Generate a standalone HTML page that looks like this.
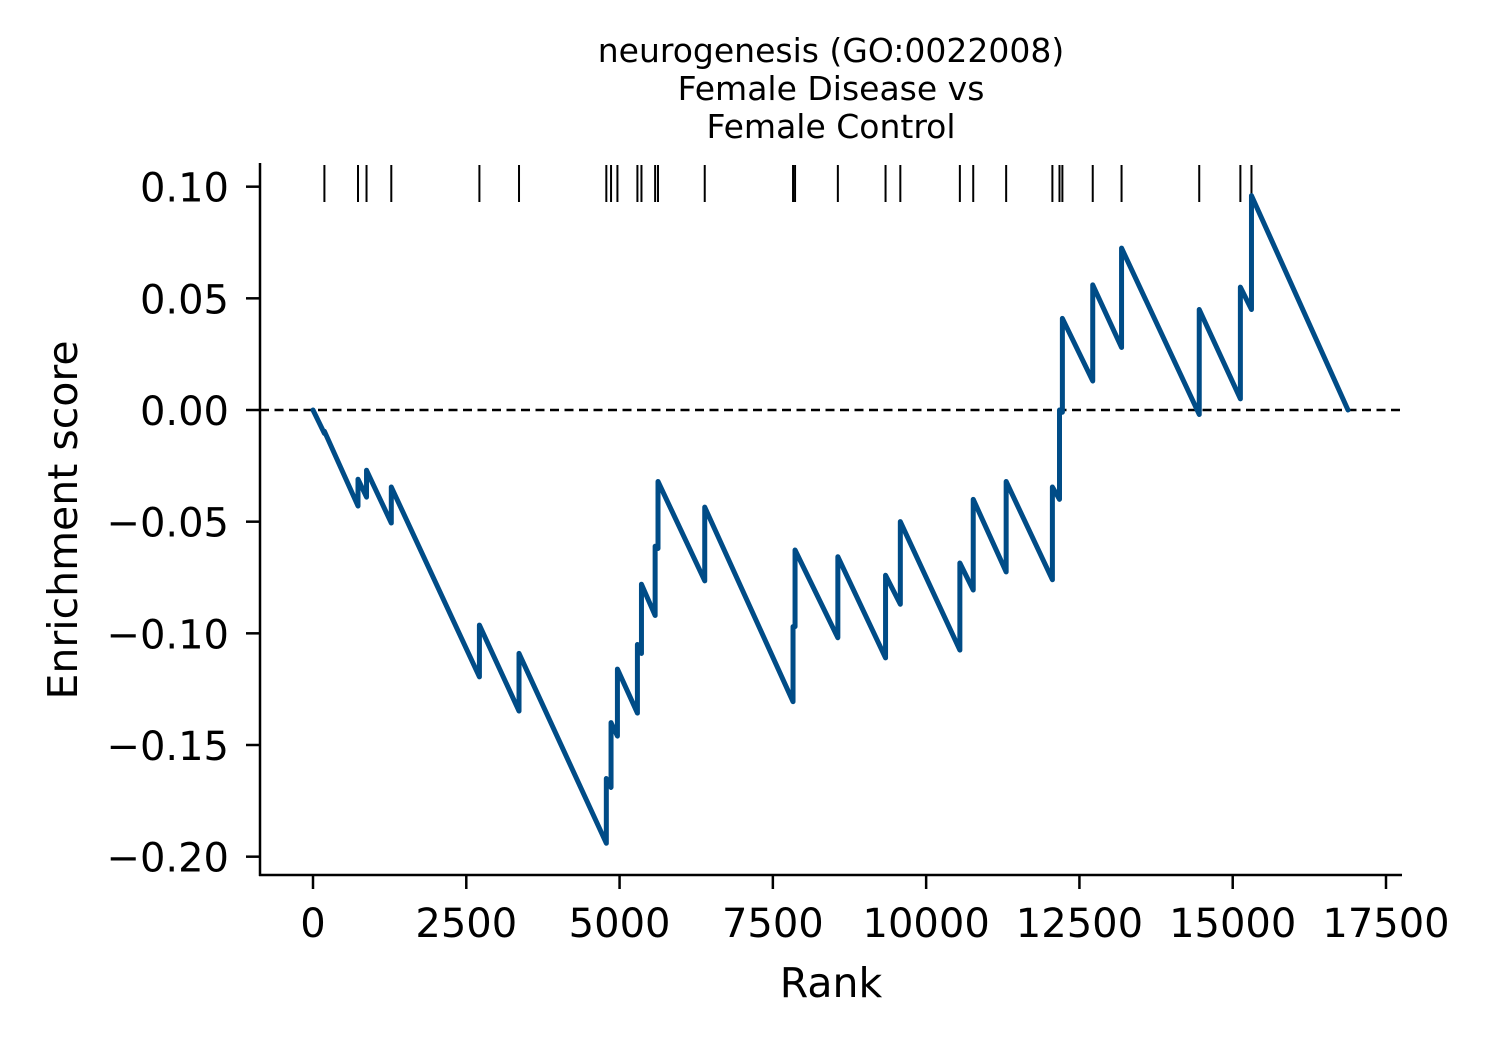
<!DOCTYPE html>
<html><head><meta charset="utf-8">
<style>
html,body{margin:0;padding:0;background:#fff;}
svg{display:block;font-family:"DejaVu Sans","Liberation Sans",sans-serif;}
</style></head>
<body>
<svg id="chart" width="1500" height="1050" viewBox="0 0 1500 1050" xmlns="http://www.w3.org/2000/svg">
  <rect width="1500" height="1050" fill="#fff"/>
  <g font-size="33" text-anchor="middle" fill="#000">
    <text x="831" y="62">neurogenesis (GO:0022008)</text>
    <text x="831" y="100">Female Disease vs</text>
    <text x="831" y="138">Female Control</text>
  </g>
  <g id="hits"></g>
  <line id="zero" x1="260" x2="1402" stroke="#000" stroke-width="2.5" stroke-dasharray="9,5.5"/>
  <path id="es" fill="none" stroke="#004c87" stroke-width="5" stroke-linejoin="round" stroke-linecap="round"/>
  <line x1="260" y1="163" x2="260" y2="876" stroke="#000" stroke-width="2.5"/>
  <line x1="259" y1="875" x2="1402" y2="875" stroke="#000" stroke-width="2.5"/>
  <g id="yticks" font-size="40" text-anchor="end"></g>
  <g id="xticks" font-size="40" text-anchor="middle"></g>
  <text x="831" y="997" font-size="41" text-anchor="middle">Rank</text>
  <text transform="translate(77,520) rotate(-90)" font-size="41" text-anchor="middle">Enrichment score</text>
</svg>
<script>
const hitRanks = [186,734,873,1277,2714,3360,4784,4861,4965,5291,5357,5580,5627,6389,7829,7862,8560,9338,9579,10550,10768,11305,12059,12175,12222,12717,13187,14454,15125,15306];
const esBefore = [-0.0105,-0.043,-0.039,-0.0506,-0.1195,-0.1348,-0.194,-0.169,-0.146,-0.1357,-0.109,-0.092,-0.062,-0.0765,-0.1306,-0.097,-0.102,-0.111,-0.087,-0.1075,-0.0806,-0.0725,-0.076,-0.040,-0.001,0.013,0.028,-0.002,0.005,0.045];
const esAfter = [-0.0095,-0.031,-0.027,-0.0345,-0.0963,-0.109,-0.165,-0.140,-0.116,-0.105,-0.078,-0.061,-0.032,-0.0435,-0.097,-0.0627,-0.0657,-0.074,-0.050,-0.0685,-0.040,-0.032,-0.0345,0.0,0.041,0.056,0.0725,0.045,0.055,0.096];
const startPoint = [0, 0];
const endPoint = [16880, 0];
const yTickValues = [0.10,0.05,0.00,-0.05,-0.10,-0.15,-0.20];
const yTickLabels = ["0.10","0.05","0.00","\u22120.05","\u22120.10","\u22120.15","\u22120.20"];
const xTickValues = [0,2500,5000,7500,10000,12500,15000,17500];
const xTickLabels = ["0","2500","5000","7500","10000","12500","15000","17500"];

const NS = "http://www.w3.org/2000/svg";
const xS = v => 313 + v * (1073/17500);
const yS = v => 410 - v * (670/0.30);

document.getElementById('zero').setAttribute('y1', yS(0));
document.getElementById('zero').setAttribute('y2', yS(0));

let d = `M${xS(startPoint[0])},${yS(startPoint[1])}`;
hitRanks.forEach((r,i)=>{
  d += ` L${xS(r)},${yS(esBefore[i])} L${xS(r)},${yS(esAfter[i])}`;
});
d += ` L${xS(endPoint[0])},${yS(endPoint[1])}`;
document.getElementById('es').setAttribute('d', d);

const hg = document.getElementById('hits');
hitRanks.forEach(r=>{
  const l = document.createElementNS(NS,'line');
  
  
  l.setAttribute('x1', xS(r)); l.setAttribute('x2', xS(r));
  l.setAttribute('y1', 165); l.setAttribute('y2', 202);
  l.setAttribute('stroke', '#000'); l.setAttribute('stroke-width', '2');
  hg.appendChild(l);
});

const yg = document.getElementById('yticks');
yTickValues.forEach((v,i)=>{
  const y = yS(v);
  const l = document.createElementNS(NS,'line');
  
  
  l.setAttribute('x1', 246); l.setAttribute('x2', 260);
  l.setAttribute('y1', y); l.setAttribute('y2', y);
  l.setAttribute('stroke', '#000'); l.setAttribute('stroke-width', '2.5');
  yg.appendChild(l);
  const t = document.createElementNS(NS,'text');
  
  
  t.setAttribute('x', 229); t.setAttribute('y', y + 15);
  t.textContent = yTickLabels[i];
  yg.appendChild(t);
});

const xg = document.getElementById('xticks');
xTickValues.forEach((v,i)=>{
  const x = xS(v);
  const l = document.createElementNS(NS,'line');
  
  
  l.setAttribute('x1', x); l.setAttribute('x2', x);
  l.setAttribute('y1', 875); l.setAttribute('y2', 889);
  l.setAttribute('stroke', '#000'); l.setAttribute('stroke-width', '2.5');
  xg.appendChild(l);
  const t = document.createElementNS(NS,'text');
  
  
  t.setAttribute('x', x); t.setAttribute('y', 937);
  t.textContent = xTickLabels[i];
  xg.appendChild(t);
});
</script>
</body></html>
